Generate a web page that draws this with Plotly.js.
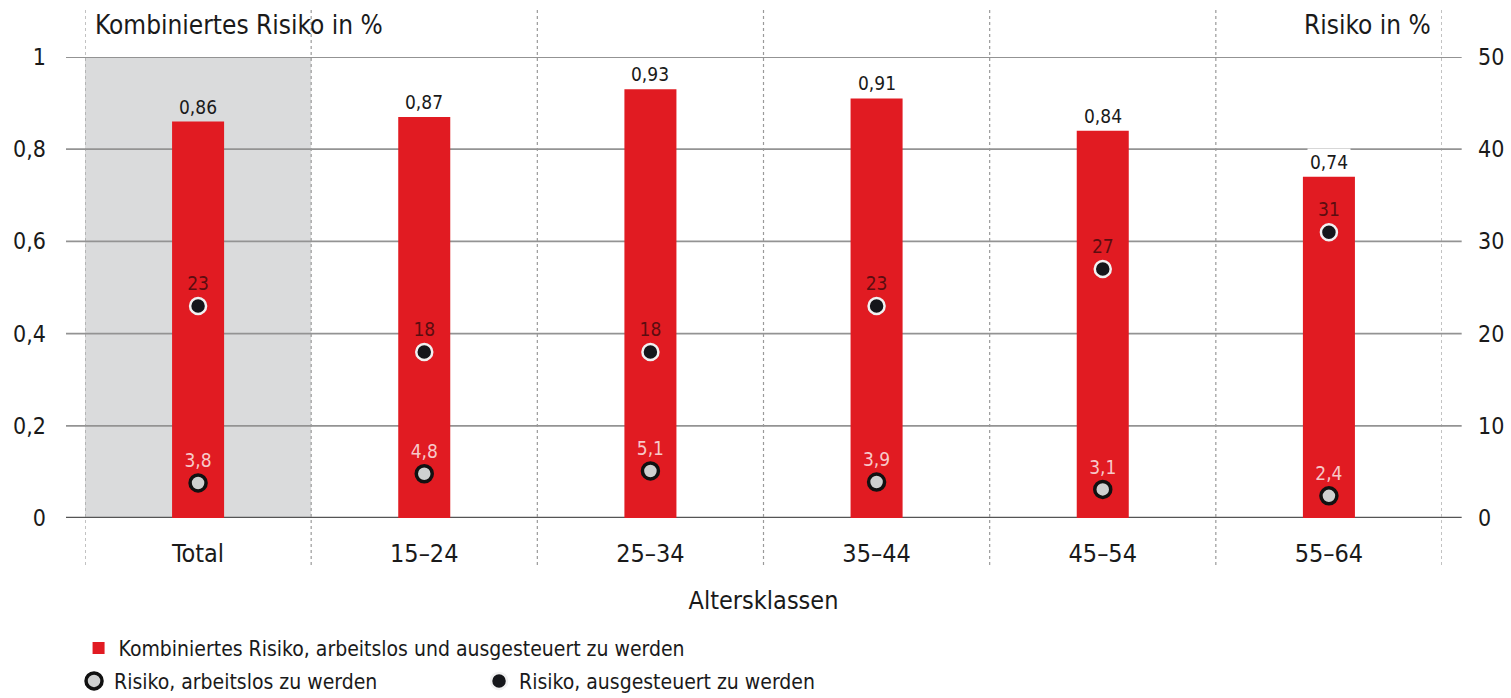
<!DOCTYPE html>
<html>
<head>
<meta charset="utf-8">
<script src="https://cdn.plot.ly/plotly-3.0.1.min.js"></script>
<style>html,body{margin:0;padding:0;background:#fff;}#chart{width:1511px;height:698px;}</style>
</head>
<body>
<div id="chart"></div>
<script>
const categories = ["Total", "15–24", "25–34", "35–44", "45–54", "55–64"];
const combinedRisk = [0.86, 0.87, 0.93, 0.91, 0.84, 0.74];
const combinedLabels = ["0,86", "0,87", "0,93", "0,91", "0,84", "0,74"];
const riskUnemployed = [3.8, 4.8, 5.1, 3.9, 3.1, 2.4];
const riskUnemployedLabels = ["3,8", "4,8", "5,1", "3,9", "3,1", "2,4"];
const riskExhausted = [23, 18, 18, 23, 27, 31];
const riskExhaustedLabels = ["23", "18", "18", "23", "27", "31"];
const leftTicks = [0, 0.2, 0.4, 0.6, 0.8, 1];
const rightTicks = [0, 10, 20, 30, 40, 50];

const FONT = '"DejaVu Sans Condensed", "Liberation Sans Narrow", "Roboto", sans-serif';
const RED = '#e11b22';
const INK = '#1a1a1a';

const traces = [
  {
    type: 'bar', x: categories, y: combinedRisk, width: 0.23,
    marker: {color: RED}, name: 'Kombiniertes Risiko, arbeitslos und ausgesteuert zu werden',
    legend: 'legend', hoverinfo: 'skip'
  },
  {
    type: 'scatter', mode: 'markers+text', x: categories, y: riskUnemployed, yaxis: 'y2',
    text: riskUnemployedLabels, textposition: 'top center',
    textfont: {family: FONT, size: 19, color: '#f7c9c9'},
    marker: {size: 16, color: '#cfd0d0', line: {color: '#111', width: 3.5}},
    name: 'Risiko, arbeitslos zu werden', legend: 'legend2', hoverinfo: 'skip', cliponaxis: false
  },
  {
    type: 'scatter', mode: 'markers+text', x: categories, y: riskExhausted, yaxis: 'y2',
    text: riskExhaustedLabels, textposition: 'top center',
    textfont: {family: FONT, size: 19, color: '#5c0d10'},
    marker: {size: 16, color: '#15161a', line: {color: '#f1f1f1', width: 2.5}},
    name: 'Risiko, ausgesteuert zu werden', legend: 'legend2', hoverinfo: 'skip', cliponaxis: false
  }
];

const shapes = [];
shapes.push({type: 'rect', xref: 'x', yref: 'paper', x0: -0.5, x1: 0.5, y0: 0, y1: 1,
  fillcolor: '#dadbdc', line: {width: 0}, layer: 'below'});
leftTicks.forEach(function (t) {
  shapes.push({type: 'line', xref: 'paper', yref: 'y', x0: -0.014, x1: 1.0145, y0: t, y1: t,
    line: {color: t === 0 ? '#555' : '#939393', width: t === 0 ? 2.5 : 1.8}, layer: 'below'});
});
for (let i = 0; i <= categories.length; i++) {
  shapes.push({type: 'line', xref: 'x', yref: 'paper', x0: i - 0.5, x1: i - 0.5, y0: -0.102, y1: 1.102,
    line: {color: '#9a9a9a', width: 1.2, dash: 'dot'}, layer: 'below'});
}

const annotations = [];
categories.forEach(function (c, i) {
  annotations.push({x: c, y: combinedRisk[i], xref: 'x', yref: 'y', text: combinedLabels[i],
    showarrow: false, yanchor: 'bottom', yshift: 1, bgcolor: i === 0 ? '#dadbdc' : '#ffffff',
    borderpad: 2, font: {family: FONT, size: 19, color: INK}});
});
annotations.push({xref: 'paper', yref: 'paper', x: 0.006, y: 1.07, xanchor: 'left', yanchor: 'middle',
  text: 'Kombiniertes Risiko in %', showarrow: false, font: {family: FONT, size: 26, color: INK}});
annotations.push({xref: 'paper', yref: 'paper', x: 0.9935, y: 1.07, xanchor: 'right', yanchor: 'middle',
  text: 'Risiko in %', showarrow: false, font: {family: FONT, size: 26, color: INK}});

const layout = {
  width: 1511, height: 698,
  margin: {l: 85, r: 69, t: 57, b: 180, autoexpand: false},
  paper_bgcolor: '#ffffff', plot_bgcolor: 'rgba(0,0,0,0)',
  separators: ',.',
  font: {family: FONT, size: 20, color: INK},
  showlegend: true,
  xaxis: {
    type: 'category', range: [-0.5, 5.5], showgrid: false, zeroline: false, showline: false,
    ticks: '', ticklabelstandoff: 18, tickfont: {family: FONT, size: 25, color: INK},
    title: {text: 'Altersklassen', font: {family: FONT, size: 25, color: INK}, standoff: 24},
    automargin: false, fixedrange: true
  },
  yaxis: {
    range: [0, 1], tickvals: leftTicks, showgrid: false, zeroline: false, showline: false,
    ticks: '', ticklabelstandoff: 38, tickfont: {family: FONT, size: 23, color: INK},
    automargin: false, fixedrange: true
  },
  yaxis2: {
    range: [0, 50], tickvals: rightTicks, overlaying: 'y', side: 'right', showgrid: false,
    zeroline: false, showline: false, ticks: '', ticklabelstandoff: 35,
    tickfont: {family: FONT, size: 23, color: INK}, automargin: false, fixedrange: true
  },
  legend: {
    xref: 'container', yref: 'container',
    x: 0.052, xanchor: 'left', y: 0.071, yanchor: 'middle', orientation: 'h',
    font: {family: FONT, size: 21, color: INK}, bgcolor: 'rgba(0,0,0,0)'
  },
  legend2: {
    xref: 'container', yref: 'container',
    x: 0.049, xanchor: 'left', y: 0.024, yanchor: 'middle', orientation: 'h',
    entrywidth: 360, entrywidthmode: 'pixels',
    font: {family: FONT, size: 21, color: INK}, bgcolor: 'rgba(0,0,0,0)'
  },
  shapes: shapes,
  annotations: annotations
};

Plotly.newPlot('chart', traces, layout, {displayModeBar: false, staticPlot: true});
</script>
</body>
</html>
